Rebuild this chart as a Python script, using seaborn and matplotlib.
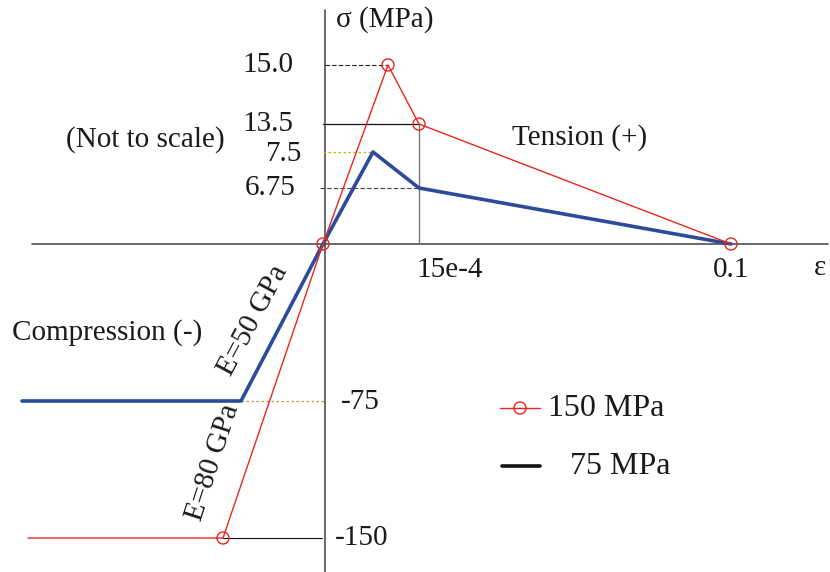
import matplotlib
matplotlib.use("Agg")
import matplotlib.pyplot as plt
import seaborn as sns
import pandas as pd

# Schematic (not to scale) diagram coordinates: x = schematic strain position, y = schematic stress position
red_x = [-295, -100, 0, 65, 96, 408]
red_y = [-294, -294, 0, 179, 120, 0]
red_marker_idx = [1, 2, 3, 4, 5]
blue_x = [-301, -82, 0, 50, 96, 408]
blue_y = [-157, -157, 0, 92, 56, 0]

stress_labels = ["15.0", "13.5", "7.5", "6.75", "-75", "-150"]
strain_labels = ["15e-4", "0.1"]
series_names = ["150 MPa", "75 MPa"]

sns.set_theme(style="white")
plt.rcParams["font.family"] = ["Liberation Serif", "DejaVu Serif"]
plt.rcParams["text.color"] = "#1a1a1a"

fig = plt.figure(figsize=(8.3, 5.72), dpi=100)
ax = fig.add_axes([0, 0, 1, 1])
ax.set_xlim(-323, 507)
ax.set_ylim(-328, 244)
ax.axis("off")

# axes
ax.plot([-291, 505], [0, 0], color="#505050", lw=1.2, zorder=1)
ax.plot([2, 2], [234, -328], color="#505050", lw=1.2, zorder=1)

# guide lines
ax.plot([2, red_x[3]], [red_y[3], red_y[3]], color="#222222", lw=0.8, ls=(0, (4, 2)), zorder=1)
ax.plot([0, red_x[4]], [red_y[4], red_y[4]], color="#111111", lw=0.9, zorder=1)
ax.plot([0, blue_x[3]], [blue_y[3], blue_y[3]], color="#c8b400", lw=0.9, ls=(0, (2, 2)), zorder=1)
ax.plot([-3, blue_x[4]], [blue_y[4], blue_y[4]], color="#444444", lw=0.8, ls=(0, (4, 2)), zorder=1)
ax.plot([red_x[4], red_x[4]], [0, red_y[4]], color="#777777", lw=1.0, zorder=1)
ax.plot([blue_x[1], 2], [blue_y[1], blue_y[1]], color="#b0a040", lw=0.9, ls=(0, (2, 2)), zorder=1)
ax.plot([red_x[1], -1], [red_y[1], red_y[1]], color="#111111", lw=0.8, zorder=1)

red_df = pd.DataFrame({"x": red_x, "y": red_y})
blue_df = pd.DataFrame({"x": blue_x, "y": blue_y})
sns.lineplot(data=blue_df, x="x", y="y", sort=False, estimator=None, color="#2c4b9b", lw=2.6, ax=ax, zorder=3)
sns.lineplot(data=red_df, x="x", y="y", sort=False, estimator=None, color="#e8261e", lw=1.0, ax=ax, zorder=4)
mk = red_df.iloc[red_marker_idx]
ax.scatter(mk["x"], mk["y"], s=75, facecolors="none", edgecolors="#e8261e", linewidths=1.0, zorder=5)

fs = 21
# stress tick labels
ax.text(-55, red_y[3], stress_labels[0], ha="center", va="center", fontsize=fs)
ax.text(-55, red_y[4], stress_labels[1], ha="center", va="center", fontsize=fs)
ax.text(-40, blue_y[3] - 2, stress_labels[2], ha="center", va="center", fontsize=fs)
ax.text(-53, blue_y[4], stress_labels[3], ha="center", va="center", fontsize=fs)
ax.text(37, blue_y[1] - 1, stress_labels[4], ha="center", va="center", fontsize=fs)
ax.text(39, red_y[1], stress_labels[5], ha="center", va="center", fontsize=fs)
# strain tick labels
ax.text(127, -26, strain_labels[0], ha="center", va="center", fontsize=fs)
ax.text(red_x[5], -26, strain_labels[1], ha="center", va="center", fontsize=fs)
ax.text(497, -24, "ε", ha="center", va="center", fontsize=fs)
ax.text(62, 224, "σ (MPa)", ha="center", va="center", fontsize=fs)

ax.text(-178, 104, "(Not to scale)", ha="center", va="center", fontsize=fs)
ax.text(257, 106, "Tension (+)", ha="center", va="center", fontsize=fs)
ax.text(-216, -89, "Compression (-)", ha="center", va="center", fontsize=fs)
ax.text(-70, -76, "E=50 GPa", ha="center", va="center", fontsize=fs, rotation=62)
ax.text(-110, -218, "E=80 GPa", ha="center", va="center", fontsize=fs, rotation=72)

# legend (manual)
ax.plot([177, 217], [-164, -164], color="#e8261e", lw=1.0)
ax.scatter([197], [-164], s=75, facecolors="none", edgecolors="#e8261e", linewidths=1.0)
ax.text(225, -164, series_names[0], ha="left", va="center", fontsize=23)
ax.plot([179, 217], [-222, -222], color="#111111", lw=2.6)
ax.text(247, -222, series_names[1], ha="left", va="center", fontsize=23)

fig.savefig("out.png", dpi=100)
